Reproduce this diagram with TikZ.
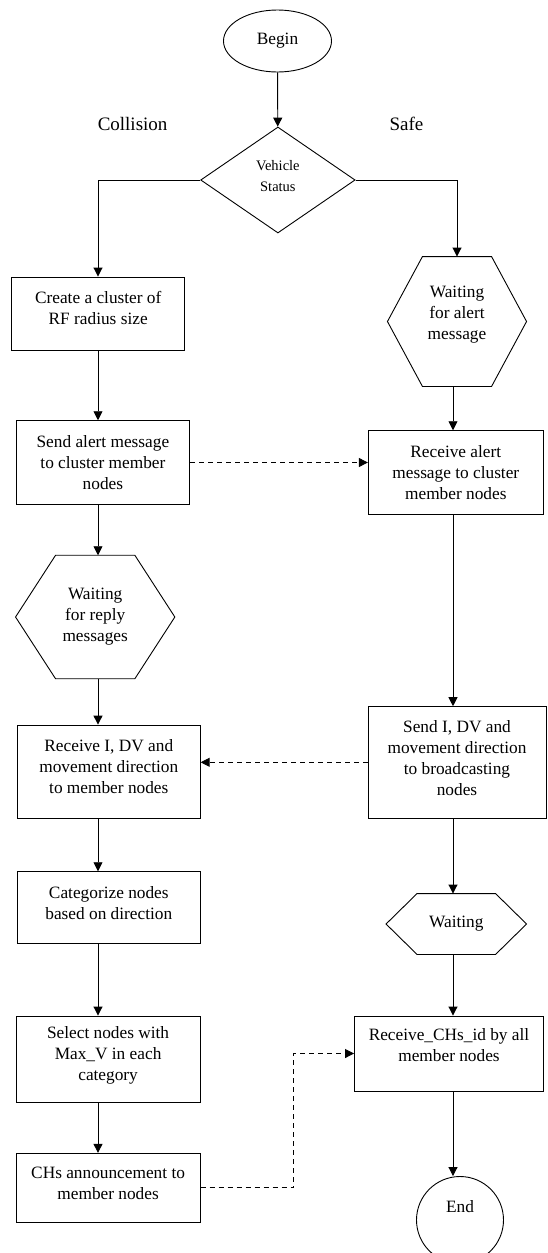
\documentclass[tikz,border=0pt]{standalone}
\usepackage{fontspec}
\setmainfont{Liberation Serif}
\usetikzlibrary{shapes.geometric,arrows.meta}
\begin{document}
\begin{tikzpicture}[x=1pt,y=-1pt,>={Triangle[length=9pt,width=9pt]},line width=0.9pt,
  font=\fontsize{17.3}{21}\selectfont,
  box/.style={draw,rectangle,align=center,inner sep=2pt},
  hexa/.style={rectangle,align=center,inner sep=0pt},
  term/.style={draw,ellipse,inner sep=0pt},
  lift/.style={text depth=#1},
  decision/.style={draw,diamond,align=center,inner sep=0pt,font=\fontsize{14.5}{21}\selectfont}]
  \useasboundingbox (0,0) rectangle (547,1253);
  %\draw[gray!30] (0,0) grid[step=50] (547,1253);
  \node[term,minimum width=108,minimum height=62] (begin) at (277.5,41) {Begin};
  \node[decision,lift=8pt,minimum width=154.5,minimum height=106] (status) at (277.9,180) {Vehicle\\Status};
  \node[font=\fontsize{19}{21}\selectfont] (collision) at (132.6,124) {Collision};
  \node[font=\fontsize{19}{21}\selectfont] (safe) at (406.4,124) {Safe};
  % left column
  \node[box,lift=12pt,minimum width=173.4,minimum height=73] (create) at (98.2,313.5) {Create a cluster of\\RF radius size};
  \node[box,minimum width=173.8,minimum height=83.6] (sendalert) at (102.9,462.5) {Send alert message\\to cluster member\\nodes};
  \node[hexa,minimum width=158.4,minimum height=122.6] (waitreply) at (95.2,617) {Waiting\\for reply\\messages};
  \node[box,lift=10pt,minimum width=182.8,minimum height=93.3] (recvI) at (108.8,771.7) {Receive I, DV and\\movement direction\\to member nodes};
  \node[box,lift=10pt,minimum width=182.8,minimum height=71.6] (categorize) at (108.8,907.5) {Categorize nodes\\based on direction};
  \node[box,lift=12pt,minimum width=184.2,minimum height=86] (select) at (108.1,1059) {Select nodes with\\Max\_V in each\\category};
  \node[box,lift=10pt,minimum width=184.2,minimum height=69] (chs) at (108.1,1187.8) {CHs announcement to\\member nodes};
  % right column
  \node[hexa,lift=17pt,minimum width=138.2,minimum height=129] (waitalert) at (457,321.5) {Waiting\\for alert\\message};
  \node[box,minimum width=175,minimum height=83.6] (recvalert) at (455.8,472.5) {Receive alert\\message to cluster\\member nodes};
  \node[box,lift=8pt,minimum width=178,minimum height=111.3] (sendI) at (457,762.3) {Send I, DV and\\movement direction\\to broadcasting\\nodes};
  \node[hexa,minimum width=139.6,minimum height=60] (waiting) at (456.3,924) {Waiting};
  \node[box,lift=18pt,minimum width=189,minimum height=75] (recvCH) at (449,1053.5) {Receive\_CHs\_id by all\\member nodes};
  \node[term,circle,lift=28pt,minimum size=87] (end) at (460,1220) {End};
  \foreach \n/\c in {waitalert/35,waitreply/40,waiting/31}
    \draw (\n.west) -- ([xshift=\c]\n.north west) -- ([xshift=-\c]\n.north east) -- (\n.east)
      -- ([xshift=-\c]\n.south east) -- ([xshift=\c]\n.south west) -- cycle;
  \coordinate (lx) at (98,0);
  \coordinate (rx) at (453,0);
  \draw[->] (begin) -- (status);
  \draw[->] (status.west) -| (lx |- create.north);
  \draw[->] (status.east) -| (waitalert.north);
  \foreach \a/\b in {create/sendalert,sendalert/waitreply,waitreply/recvI,recvI/categorize,categorize/select,select/chs}
    \draw[->] (lx |- \a.south) -- (lx |- \b.north);
  \foreach \a/\b in {waitalert/recvalert,recvalert/sendI,sendI/waiting,waiting/recvCH,recvCH/end}
    \draw[->] (rx |- \a.south) -- (rx |- \b.north);
  \draw[->,dash pattern=on 5pt off 4pt] (sendalert.east) -- (sendalert.east -| recvalert.west);
  \draw[->,dash pattern=on 5pt off 4pt] (sendI.west) -- (sendI.west -| recvI.east);
  \draw[->,dash pattern=on 5pt off 4pt] (chs.east) -- ++(93,0) |- (recvCH.west);
\end{tikzpicture}
\end{document}
